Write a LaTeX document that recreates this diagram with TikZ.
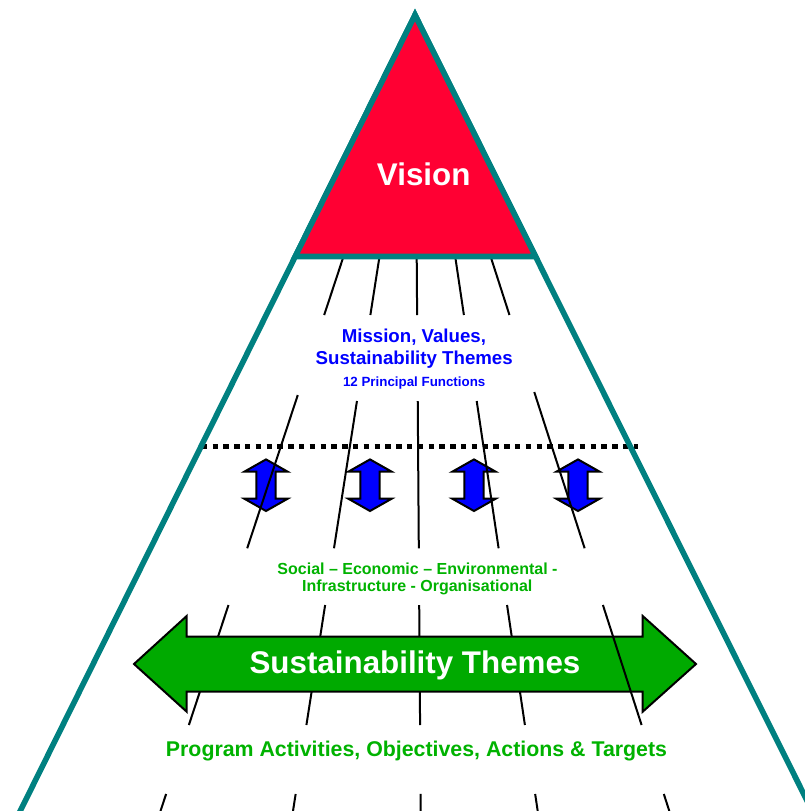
\documentclass[tikz,border=0pt]{standalone}
\usepackage{fontspec}
\setmainfont{Liberation Sans}
\usepackage{tikz}
\usetikzlibrary{calc}
\definecolor{visionred}{RGB}{255,0,51}
\definecolor{pyramidteal}{RGB}{0,128,128}
\definecolor{themegreen}{RGB}{0,170,0}
\definecolor{themetext}{RGB}{0,178,0}
\definecolor{missionblue}{RGB}{0,0,255}
\tikzset{
    pyramid edge/.style={draw=pyramidteal, line width=4.2pt, line join=miter},
    function line/.style={draw=black, line width=1.5pt},
    level divider/.style={draw=black, line width=3.5pt, dash pattern=on 4.1pt off 4pt},
    link arrow/.style={fill=missionblue, draw=black, line width=1.5pt, line join=miter},
    theme arrow/.style={fill=themegreen, draw=black, line width=1.5pt, line join=miter},
    mission text/.style={text=missionblue, anchor=base, inner sep=0pt},
    theme text/.style={text=themetext, anchor=base, inner sep=0pt},
    white text/.style={text=white, anchor=base, inner sep=0pt},
}

\begin{document}
\begin{tikzpicture}[x=0.75pt, y=-0.75pt]
    \useasboundingbox (0,0) rectangle (805,811);
    \clip (0,0) rectangle (805,811);

    %Two-way links between the levels
    \foreach \x in {266,370,474,578}
        \draw[link arrow, shift={(\x,485.2)}] (0,-25.8) -- (21.7,-13.5) -- (9.7,-13.5) -- (9.7,13.5) -- (21.7,13.5) -- (0,25.8) -- (-21.7,13.5) -- (-9.7,13.5) -- (-9.7,-13.5) -- (-21.7,-13.5) -- cycle;

    %Function lines fanning out below the apex
    \foreach \i/\t/\b in {1/343.5/160.5, 2/379.5/293, 3/416.7/420.7, 4/455.2/537.7, 5/490.6/669.3} {
        \coordinate (top-\i) at (\t,256.5);
        \coordinate (bot-\i) at (\b,811);
    }
    \foreach \i/\s in {1/0.2498, 2/0.2606, 3/0.2606, 4/0.2606, 5/0.2444} {
        \draw[function line] (top-\i) -- ($(top-\i)!0.1055!(bot-\i)$);
        \draw[function line] ($(top-\i)!\s!(bot-\i)$) -- ($(top-\i)!0.5262!(bot-\i)$);
        \draw[function line] ($(top-\i)!0.9693!(bot-\i)$) -- (bot-\i);
    }
    \foreach \i in {1,...,4}
        \draw[function line] ($(top-\i)!0.6285!(bot-\i)$) -- ($(top-\i)!0.8449!(bot-\i)$);

    %Dotted divider
    \coordinate (divider-w) at (201.7,446.7);
    \coordinate (divider-e) at (638,446.7);
    \draw[level divider] (divider-w) -- (divider-e);

    %Themes arrow
    \draw[theme arrow] (134,664) -- (186.7,616) -- (186.7,636.7) -- (642.7,636.7) -- (642.7,616) -- (696,664) -- (642.7,711.7) -- (642.7,691.7) -- (186.7,691.7) -- (186.7,711.7) -- cycle;
    \draw[function line] ($(top-5)!0.6285!(bot-5)$) -- ($(top-5)!0.8449!(bot-5)$);

    %Labels
    \node[mission text, font=\fontsize{14}{16}\selectfont\bfseries] (mission) at (413.9,342.7) {Mission, Values,};
    \node[mission text, font=\fontsize{14}{16}\selectfont\bfseries] (mission-themes) at (414.2,364.3) {Sustainability Themes};
    \node[mission text, font=\fontsize{10}{12}\selectfont\bfseries] (functions) at (414.2,386.7) {12 Principal Functions};

    \node[theme text, font=\fontsize{12}{14}\selectfont\bfseries] (themes-line1) at (417.5,574.3) {Social – Economic – Environmental -};
    \node[theme text, font=\fontsize{12}{14}\selectfont\bfseries] (themes-line2) at (417.3,591) {Infrastructure - Organisational};

    \node[white text, font=\fontsize{23.5}{28}\selectfont\bfseries] (themes) at (415,673.3) {Sustainability Themes};

    \node[theme text, font=\fontsize{16}{19}\selectfont\bfseries] (program) at (416.5,756.7) {Program Activities, Objectives, Actions \& Targets};

    %Pyramid and the vision at its top
    \draw[pyramid edge] (10.8,830) -- (415,15) -- (821.7,830);
    \draw[pyramid edge, fill=visionred] (295.2,256.5) -- (415,15) -- (535.5,256.5) -- cycle;
    \node[white text, font=\fontsize{23.5}{28}\selectfont\bfseries] (vision) at (423.7,185) {Vision};
\end{tikzpicture}
\end{document}
